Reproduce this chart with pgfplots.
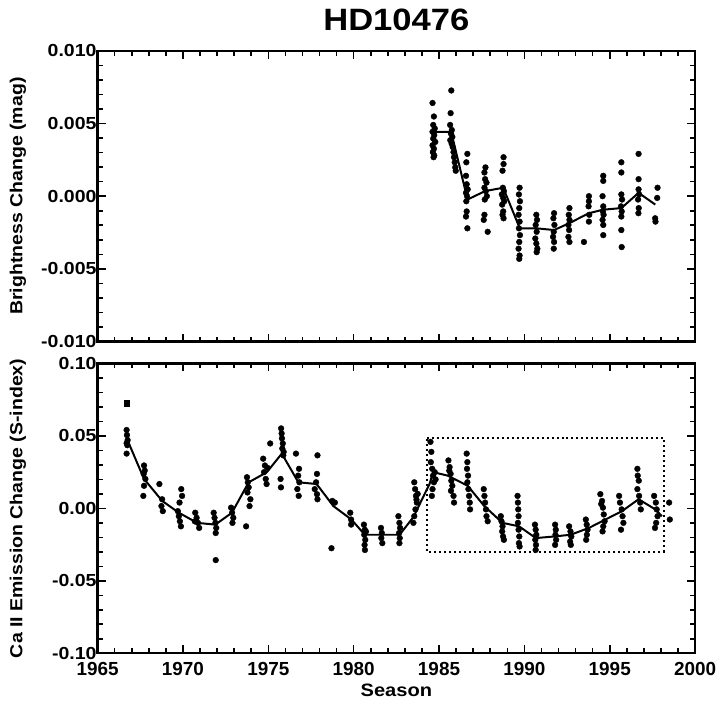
\documentclass[border=0pt]{standalone}
\usepackage{pgfplots}
\pgfplotsset{compat=1.18}
\usepackage{pgfplotstable}
\usepackage{fontspec}
\setmainfont{Liberation Sans}
\newfontfamily\widefont{Liberation Sans}[FakeStretch=1.12]

% Brightness change, values in units of 0.001 mag
\pgfplotstableread{
x y
1984.62 6.41
1984.70 5.48
1984.66 4.90
1984.75 4.66
1984.62 4.43
1984.72 4.20
1984.66 3.96
1984.78 3.73
1984.62 3.50
1984.70 3.26
1984.64 3.03
1984.72 2.80
1984.68 2.68
1985.72 7.27
1985.68 5.71
1985.65 4.90
1985.75 4.55
1985.70 4.31
1985.78 4.08
1985.66 3.85
1985.74 3.61
1985.80 3.38
1985.85 3.03
1985.88 2.68
1985.92 2.33
1985.95 1.98
1985.98 1.75
1986.66 2.91
1986.60 2.33
1986.58 1.40
1986.62 0.82
1986.68 0.47
1986.58 0.23
1986.64 0.00
1986.60 -0.35
1986.62 -1.05
1986.58 -1.40
1986.66 -2.21
1987.72 1.98
1987.66 1.63
1987.70 1.17
1987.78 0.93
1987.66 0.58
1987.74 0.35
1987.80 0.00
1987.68 -0.23
1987.66 -1.28
1987.62 -1.63
1987.85 -2.45
1988.78 2.68
1988.78 2.21
1988.72 1.75
1988.74 0.58
1988.80 0.35
1988.68 0.12
1988.76 -0.12
1988.82 -0.35
1988.70 -0.58
1988.76 -1.05
1988.72 -1.28
1988.78 -1.52
1989.72 0.58
1989.68 0.12
1989.74 -0.35
1989.70 -0.82
1989.66 -1.28
1989.72 -1.75
1989.68 -2.21
1989.74 -2.68
1989.70 -3.15
1989.66 -3.61
1989.72 -4.08
1989.70 -4.31
1990.70 -1.28
1990.74 -1.63
1990.66 -1.98
1990.72 -2.45
1990.64 -2.91
1990.70 -3.26
1990.76 -3.61
1990.72 -3.85
1991.74 -1.17
1991.70 -1.52
1991.76 -1.98
1991.72 -2.45
1991.68 -2.80
1991.74 -3.15
1991.72 -3.61
1992.64 -0.82
1992.60 -1.28
1992.64 -1.63
1992.58 -1.98
1992.62 -2.33
1992.58 -2.80
1992.64 -3.15
1993.49 -3.15
1993.78 0.00
1993.78 -0.35
1993.76 -0.70
1993.80 -1.28
1993.78 -1.75
1994.62 1.40
1994.62 1.05
1994.58 0.00
1994.62 -0.70
1994.60 -1.05
1994.64 -1.28
1994.58 -1.63
1994.62 -1.98
1994.62 -2.68
1995.68 2.33
1995.68 1.63
1995.68 0.12
1995.72 -0.23
1995.66 -0.70
1995.70 -1.05
1995.68 -1.40
1995.68 -2.33
1995.70 -3.50
1996.69 2.91
1996.69 1.17
1996.69 0.47
1996.72 0.12
1996.66 -0.23
1996.70 -0.82
1996.68 -1.17
1997.80 0.58
1997.78 -0.12
1997.66 -1.52
1997.68 -1.75
}\brightpts

\pgfplotstableread{
x y
1984.67 4.43
1985.71 4.43
1986.67 -0.23
1987.70 0.35
1988.76 0.58
1989.73 -2.21
1990.71 -2.21
1991.74 -2.33
1992.61 -1.87
1993.78 -1.17
1994.60 -0.93
1995.68 -0.82
1996.69 0.23
1997.67 -0.58
}\brightline

% Ca II emission change, values in units of 0.01
\pgfplotstableread{
x y
1966.70 5.41
1966.72 5.06
1966.76 4.71
1966.70 4.50
1966.74 4.36
1966.70 3.78
1967.72 2.96
1967.76 2.61
1967.70 2.38
1967.80 2.03
1967.72 1.56
1967.68 0.86
1968.62 1.68
1968.78 0.63
1968.74 0.16
1968.82 -0.19
1969.90 1.33
1969.95 0.86
1969.80 0.40
1969.70 -0.19
1969.76 -0.54
1969.82 -0.89
1969.88 -1.24
1970.72 -0.30
1970.80 -0.65
1970.88 -1.00
1970.95 -1.35
1970.70 -0.90
1971.80 -0.30
1971.85 -0.65
1971.90 -1.00
1971.95 -1.35
1971.92 -1.70
1971.92 -3.57
1972.82 0.05
1972.88 -0.30
1972.95 -0.65
1972.90 -1.00
1973.75 2.15
1973.80 1.80
1973.85 1.45
1973.78 1.10
1973.95 0.63
1973.90 0.16
1973.70 -1.24
1974.70 3.43
1974.80 2.96
1974.75 2.50
1974.85 2.03
1974.90 1.68
1975.11 4.48
1974.95 2.80
1975.75 5.52
1975.78 5.17
1975.80 4.83
1975.85 4.48
1975.82 4.13
1975.88 3.66
1975.72 2.03
1975.74 1.45
1975.90 3.90
1976.62 3.78
1976.80 2.73
1976.75 2.26
1976.82 1.80
1976.70 1.33
1976.78 0.86
1977.88 3.66
1977.85 2.38
1977.80 1.80
1977.72 1.33
1977.85 0.98
1977.88 0.63
1978.75 0.51
1978.90 0.40
1978.70 -2.75
1979.80 -0.30
1979.85 -0.77
1979.85 -1.12
1980.60 -1.12
1980.65 -1.47
1980.62 -1.82
1980.68 -2.17
1980.64 -2.52
1980.66 -2.87
1980.72 -1.60
1981.60 -1.35
1981.65 -1.70
1981.62 -2.05
1981.68 -2.40
1982.62 -0.54
1982.68 -1.00
1982.72 -1.35
1982.66 -1.70
1982.70 -2.05
1982.68 -2.40
1983.55 1.80
1983.60 1.33
1983.65 0.86
1983.70 0.40
1983.62 -0.07
1983.55 -0.54
1983.50 -1.00
1983.75 1.00
1983.68 0.60
1984.50 4.59
1984.55 3.90
1984.52 3.19
1984.60 2.73
1984.65 2.26
1984.70 1.80
1984.62 1.33
1984.58 0.86
1984.80 2.00
1984.75 2.50
1985.55 3.31
1985.62 2.85
1985.68 2.38
1985.72 1.91
1985.78 1.56
1985.70 1.21
1985.85 0.86
1985.88 0.40
1985.60 2.60
1986.62 3.78
1986.66 3.19
1986.64 2.73
1986.70 2.26
1986.66 1.80
1986.72 1.33
1986.76 0.86
1986.80 0.40
1986.82 -0.07
1987.62 1.33
1987.66 0.86
1987.70 0.40
1987.75 -0.07
1987.78 -0.54
1987.85 -0.89
1988.62 -0.54
1988.66 -0.89
1988.72 -1.24
1988.70 -1.59
1988.75 -1.94
1988.80 -2.17
1989.60 0.86
1989.62 0.40
1989.64 -0.07
1989.66 -0.54
1989.62 -1.00
1989.66 -1.47
1989.70 -1.94
1989.68 -2.40
1989.72 -2.63
1990.62 -1.12
1990.66 -1.47
1990.70 -1.82
1990.64 -2.17
1990.68 -2.52
1990.66 -2.87
1991.80 -1.12
1991.84 -1.47
1991.82 -1.82
1991.86 -2.17
1991.80 -2.52
1992.62 -1.24
1992.70 -1.59
1992.75 -1.94
1992.68 -2.29
1992.72 -2.52
1993.60 -0.77
1993.65 -1.12
1993.70 -1.47
1993.66 -1.82
1993.62 -2.17
1994.45 0.98
1994.55 0.51
1994.60 0.05
1994.65 -0.42
1994.70 -0.89
1994.62 -1.24
1994.58 -1.59
1994.50 0.30
1995.55 0.86
1995.60 0.40
1995.70 -0.07
1995.75 -0.54
1995.80 -1.00
1995.66 -1.47
1996.62 2.73
1996.64 2.26
1996.70 1.91
1996.62 1.33
1996.72 0.86
1996.78 0.40
1996.82 -0.07
1997.60 0.86
1997.70 0.40
1997.75 -0.07
1997.80 -0.54
1997.72 -1.00
1997.65 -1.35
1998.48 0.40
1998.52 -0.77
}\capts

\pgfplotstableread{
x y
1966.75 4.71
1967.72 2.03
1968.79 0.51
1969.76 -0.30
1970.83 -1.00
1971.90 -1.12
1972.87 -0.30
1973.85 1.80
1974.92 2.50
1975.79 3.78
1976.76 1.80
1977.83 1.68
1978.81 0.16
1979.87 -0.77
1980.65 -1.82
1981.63 -1.82
1982.69 -1.82
1983.50 -0.60
1984.45 1.70
1984.65 2.50
1985.51 2.26
1986.68 1.56
1987.65 0.16
1988.72 -1.00
1989.69 -1.24
1990.67 -2.05
1991.74 -1.94
1992.71 -1.82
1993.78 -1.35
1994.75 -0.77
1995.72 -0.19
1996.69 0.63
1997.67 -0.07
1998.06 -0.54
}\caline

\pgfplotsset{
  panel/.style={
    scale only axis, width=600pt,
    xmin=1965, xmax=2000,
    scaled y ticks=false, scaled x ticks=false,
    axis line style={line width=2.2pt},
    every tick/.style={line width=1.6pt, black},
    major tick length=8pt, minor tick length=5pt,
    tick align=inside,
    xtick={1965,1970,...,2000},
    minor x tick num=4,
    minor y tick num=4,
    yticklabel style={font=\fontsize{17.5}{17.5}\widefont\bfseries, xshift=2.5pt},
    xticklabel style={font=\fontsize{19}{19}\selectfont\bfseries, yshift=-6pt},
    every axis y label/.style={at={(axis description cs:-0.1333,0.5)}, rotate=90, anchor=center, font=\fontsize{17.5}{17.5}\widefont\bfseries},
    every axis x label/.style={at={(axis description cs:0.5,0)}, anchor=center, yshift=-37pt, font=\fontsize{18}{18}\widefont\bfseries},
  },
  pts/.style={only marks, mark=*, mark size=2.9pt, black},
  ln/.style={no marks, black, line width=2pt},
}

\begin{document}
\begin{tikzpicture}
\begin{axis}[panel, at={(0,0)}, height=292pt,
  ymin=-0.01, ymax=0.01,
  ytick={-0.01,-0.005,0,0.005,0.01},
  yticklabels={-0.010,-0.005,0.000,0.005,0.010},
  xticklabels={},
  ylabel={Brightness Change (mag)},
  title={HD10476},
  title style={at={(axis description cs:0.5,1)}, anchor=center, yshift=25pt, font=\fontsize{31}{31}\widefont\bfseries},
]
\addplot[pts] table[x=x, y expr=\thisrow{y}/1000] {\brightpts};
\addplot[ln] table[x=x, y expr=\thisrow{y}/1000] {\brightline};
\end{axis}

\begin{axis}[panel, at={(0,-313pt)}, height=291pt,
  ymin=-0.1, ymax=0.1,
  ytick={-0.1,-0.05,0,0.05,0.1},
  yticklabels={-0.10,-0.05,0.00,0.05,0.10},
  xticklabels={1965,1970,1975,1980,1985,1990,1995,2000},
  ylabel={Ca II Emission Change (S-index)},
  xlabel={Season},
]
\addplot[pts] table[x=x, y expr=\thisrow{y}/100] {\capts};
\addplot[only marks, mark=square*, mark size=2.8pt, black] coordinates {(1966.70,0.0727)};
\addplot[ln] table[x=x, y expr=\thisrow{y}/100] {\caline};
\addplot[black, line width=2pt, dash pattern=on 2pt off 3pt, no marks] coordinates {(1984.30,0.0487) (1998.15,0.0487) (1998.15,-0.0298) (1984.30,-0.0298) (1984.30,0.0487)};
\end{axis}
\pgfresetboundingbox
\path[use as bounding box] (-98pt,-363pt) rectangle (623pt,343pt);
\end{tikzpicture}
\end{document}
